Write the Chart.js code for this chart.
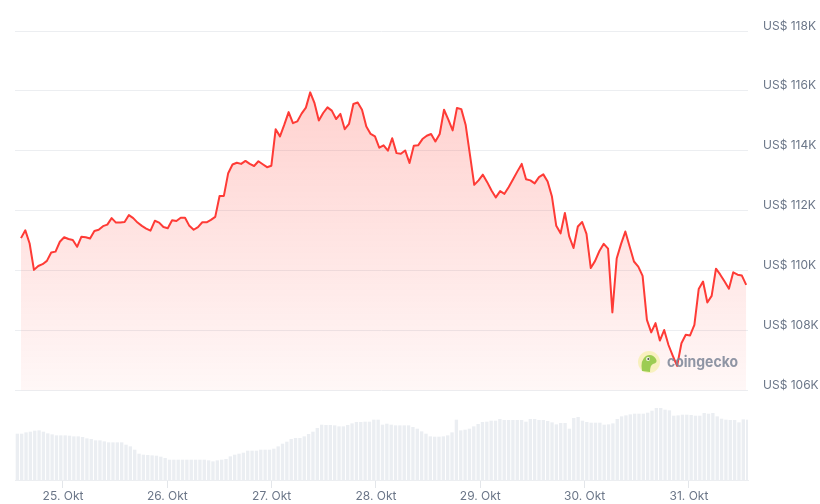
<!DOCTYPE html>
<html>
<head>
<meta charset="utf-8">
<script src="https://cdn.jsdelivr.net/npm/chart.js@4/dist/chart.umd.min.js"></script>
<style>
  html, body { margin: 0; padding: 0; background: #ffffff; }
  #wrap { width: 820px; height: 504px; }
</style>
</head>
<body>
<div id="wrap"><canvas id="c" width="820" height="504"></canvas></div>
<script>
// ---- data ----
const dayLabels = ['25. Okt', '26. Okt', '27. Okt', '28. Okt', '29. Okt', '30. Okt', '31. Okt'];
const dayTickHours = [0, 24, 48, 72, 96, 120, 144];
const priceTicks = [106000, 108000, 110000, 112000, 114000, 116000, 118000];

// price series: one value per sample, hours relative to 25. Okt 00:00
const priceStartHour = -9.66;
const priceStepHour = 0.993;
const prices = [
  111080, 111340, 110900, 110020, 110150, 110210, 110320, 110600, 110630, 110960,
  111110, 111050, 111020, 110790, 111130, 111110, 111070, 111320, 111360, 111480,
  111530, 111750, 111600, 111600, 111620, 111850, 111750,
  111600, 111490, 111400, 111330, 111660, 111600, 111450, 111410, 111680, 111650,
  111760, 111760, 111490, 111360, 111450, 111610, 111610, 111690, 111790, 112490,
  112490, 113250, 113540, 113600, 113560, 113660, 113560, 113490,
  113650, 113550, 113450, 113500, 114720, 114480, 114870, 115290, 114920, 114980,
  115240, 115440, 115950, 115590, 115010, 115260, 115450, 115340, 115060, 115230,
  114720, 114900, 115560, 115610, 115370, 114810, 114560, 114480,
  114100, 114180, 114000, 114420, 113920, 113900, 114010, 113590, 114170, 114180,
  114390, 114500, 114560, 114310, 114560, 115370, 115040, 114680, 115430, 115390,
  114870, 113870, 112860, 113010, 113200, 112950, 112670, 112440, 112650,
  112560, 112790, 113050, 113310, 113560, 113050, 113010, 112910, 113120, 113210,
  112970, 112470, 111490, 111240, 111920, 111140, 110750, 111470, 111620, 111220,
  110080, 110320, 110650, 110890, 110730, 108600, 110400, 110880,
  111300, 110800, 110300, 110130, 109820, 108350, 107930, 108240, 107660, 108010,
  107510, 107150, 106810, 107570, 107850, 107830, 108180, 109380, 109630, 108930,
  109150, 110060, 109860, 109630, 109390, 109940, 109860, 109830, 109520
];

// hourly volume (Mrd. US$)
const volumeStartHour = -10.5;
const volumeStepHour = 1;
const volumes = [
  46.0, 46.0, 47.3, 48.0, 49.0, 49.3, 48.0, 46.3, 45.3, 44.3,
  44.3, 44.3, 44.0, 43.3, 43.3, 42.7, 41.3, 40.7, 39.3, 39.3,
  38.3, 37.3, 37.3, 37.3, 37.3, 35.0, 33.3, 30.0, 26.0, 25.0,
  24.7, 24.3, 24.0, 23.0, 21.7, 20.0, 20.0, 20.0, 20.0, 20.0,
  20.0, 20.0, 20.0, 20.0, 19.3, 18.3, 19.3, 20.0, 20.7, 23.3,
  25.0, 26.0, 27.0, 29.0, 29.0, 29.0, 30.0, 30.0, 30.0, 31.0,
  33.3, 36.0, 38.0, 40.7, 41.7, 41.7, 43.3, 45.7, 48.0, 51.7,
  55.0, 54.7, 54.7, 54.3, 53.3, 53.3, 54.7, 56.3, 57.7, 57.7,
  58.0, 58.0, 60.0, 60.0, 55.0, 56.0, 55.0, 54.3, 54.3, 54.3, 54.3,
  52.7, 51.0, 48.3, 46.0, 43.3, 43.0, 43.0, 43.3, 44.3, 47.3,
  60.0, 49.3, 50.0, 51.0, 53.3, 55.7, 57.7, 58.0, 59.0, 59.0,
  60.7, 59.7, 59.7, 59.7, 59.7, 59.7, 58.0, 60.7, 60.7, 59.7,
  59.7, 58.7, 57.3, 55.3, 56.7, 56.7, 51.0, 61.7, 62.7, 59.0,
  57.7, 57.0, 57.0, 57.0, 55.0, 55.3, 56.3, 60.7, 63.3, 64.3,
  65.3, 66.0, 66.0, 66.0, 67.0, 69.0, 71.7, 71.7, 70.0, 69.3,
  64.0, 64.3, 65.0, 65.0, 64.7, 64.0, 64.0, 66.7, 66.0, 66.7,
  63.3, 61.0, 60.0, 59.7, 59.7, 57.3, 60.3, 60.0
];

// ---- build library tables ----
const pricePoints = prices.map((p, i) => ({ x: priceStartHour + i * priceStepHour, y: p }));
const volumePoints = volumes.map((v, i) => ({ x: volumeStartHour + i * volumeStepHour, y: v }));

const LINE = '#fe3b36';
const GRID = '#eceef1';
const TEXT = '#6b7688';

const watermark = {
  id: 'watermark',
  afterDatasetsDraw(chart) {
    const c = chart.ctx;
    const area = chart.chartArea;
    const cx = area.right - 99, cy = area.bottom - 118;
    c.save();
    c.globalAlpha = 0.85;
    c.beginPath();
    c.arc(cx, cy, 11, 0, Math.PI * 2);
    c.fillStyle = '#f7f0b5';
    c.fill();
    c.beginPath();
    c.moveTo(cx - 7, cy + 9);
    c.quadraticCurveTo(cx - 9, cy - 2, cx - 3, cy - 6);
    c.quadraticCurveTo(cx + 3, cy - 9, cx + 7, cy - 3);
    c.quadraticCurveTo(cx + 9, cy + 1, cx + 4, cy + 2);
    c.quadraticCurveTo(cx + 1, cy + 3, cx + 1, cy + 10);
    c.closePath();
    c.fillStyle = '#8cc63f';
    c.fill();
    c.beginPath();
    c.arc(cx - 1, cy - 3, 2, 0, Math.PI * 2);
    c.fillStyle = '#ffffff';
    c.fill();
    c.beginPath();
    c.arc(cx - 0.6, cy - 3, 1, 0, Math.PI * 2);
    c.fillStyle = '#333';
    c.fill();
    c.font = 'bold 15px Inter, "Open Sans", sans-serif';
    c.fillStyle = '#7b8596';
    c.textBaseline = 'middle';
    c.textAlign = 'left';
    const txt = 'coingecko';
    const w = c.measureText(txt).width;
    const target = 71;
    c.translate(cx + 18, cy);
    c.scale(target / w, 1);
    c.fillText(txt, 0, 0);
    c.restore();
  }
};

new Chart(document.getElementById('c'), {
  data: {
    datasets: [
      {
        type: 'line',
        label: 'Preis',
        data: pricePoints,
        xAxisID: 'x',
        yAxisID: 'y',
        borderColor: LINE,
        borderWidth: 2,
        borderJoinStyle: 'round',
        pointRadius: 0,
        tension: 0,
        fill: { value: 106000 },
        backgroundColor: (ctx) => {
          const chart = ctx.chart;
          if (!chart.chartArea) return 'rgba(255,59,48,0.1)';
          const y = chart.scales.y;
          const top = y.getPixelForValue(118000);
          const bot = y.getPixelForValue(106000);
          const g = chart.ctx.createLinearGradient(0, top, 0, bot);
          g.addColorStop(0, 'rgba(255,59,48,0.27)');
          g.addColorStop(1, 'rgba(255,59,48,0.04)');
          return g;
        },
        order: 1
      },
      {
        type: 'bar',
        label: 'Volumen',
        data: volumePoints,
        xAxisID: 'x',
        yAxisID: 'yv',
        backgroundColor: '#ebeef2',
        barThickness: 2.7,
        order: 2
      }
    ]
  },
  options: {
    responsive: false,
    devicePixelRatio: 1,
    animation: false,
    layout: { padding: { left: 15, top: 31, right: 0, bottom: 0 } },
    plugins: { legend: { display: false }, tooltip: { enabled: false } },
    scales: {
      x: {
        type: 'linear',
        offset: false,
        min: -11.04,
        max: 157.58,
        afterBuildTicks: (s) => { s.ticks = dayTickHours.map(v => ({ value: v })); },
        afterFit: (s) => { s.height = 24; },
        grid: { drawOnChartArea: false, drawTicks: true, tickLength: 8, color: '#e3e6ea', offset: false },
        border: { display: true, color: GRID },
        ticks: {
          padding: 1,
          maxRotation: 0,
          autoSkip: false,
          color: TEXT,
          font: { family: 'Inter, "Open Sans", sans-serif', size: 12 },
          callback: (v) => dayLabels[dayTickHours.indexOf(v)]
        }
      },
      y: {
        type: 'linear',
        position: 'right',
        min: 103000,
        max: 118000,
        afterBuildTicks: (s) => { s.ticks = priceTicks.map(v => ({ value: v })); },
        afterFit: (s) => { s.width = 72; },
        grid: { color: GRID, drawTicks: false },
        border: { display: false },
        ticks: {
          padding: 15,
          labelOffset: -5,
          color: TEXT,
          font: { family: 'Inter, "Open Sans", sans-serif', size: 12 },
          callback: (v) => 'US$ ' + (v / 1000) + 'K'
        }
      },
      yv: {
        type: 'linear',
        display: false,
        min: 0,
        max: 449
      }
    }
  },
  plugins: [watermark]
});
</script>
</body>
</html>
